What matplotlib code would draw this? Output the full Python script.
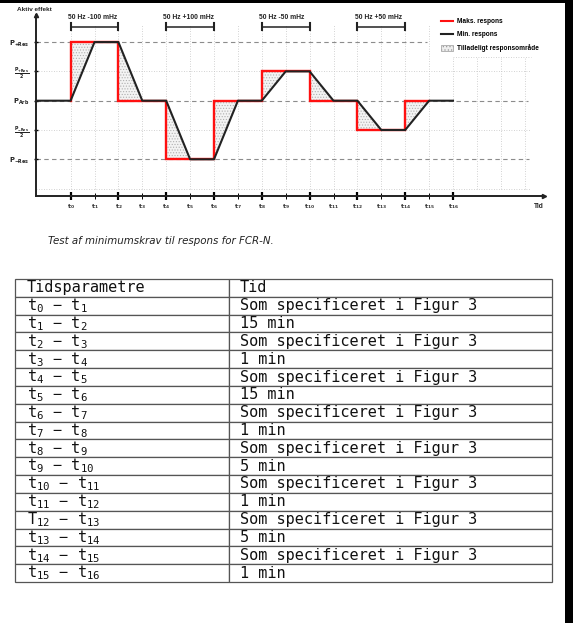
import re
import numpy as np
import matplotlib.pyplot as plt
from matplotlib.lines import Line2D
from matplotlib.patches import Patch, Rectangle

plt.rcParams['font.family'] = ['DejaVu Sans']
plt.rcParams['hatch.linewidth'] = 0.5
plt.rcParams['hatch.color'] = '#b0b0b0'

# --- data ---
t_idx = list(range(17))
t_labels = [r'$\mathbf{t_{%d}}$' % i for i in t_idx]

y_levels = [2, 1, 0, -1, -2]
y_labels = [r'$\mathbf{P_{+Res}}$', r'$\mathbf{\frac{P_{+Res}}{2}}$', r'$\mathbf{P_{Arb}}$',
            r'$\mathbf{\frac{P_{-Res}}{2}}$', r'$\mathbf{P_{-Res}}$']

# min. respons (sort)
min_t = [0, 1, 2, 3, 4, 5, 6, 7, 8, 9, 10, 11, 12, 13, 14, 15, 16]
min_p = [0, 2, 2, 0, 0, -2, -2, 0, 0, 1, 1, 0, 0, -1, -1, 0, 0]
# maks. respons (roed)
max_t = [0, 0, 2, 2, 4, 4, 6, 6, 8, 8, 10, 10, 12, 12, 14, 14, 15]
max_p = [0, 2, 2, 0, 0, -2, -2, 0, 0, 1, 1, 0, 0, -1, -1, 0, 0]

freq_labels = ['50 Hz -100 mHz', '50 Hz +100 mHz', '50 Hz -50 mHz', '50 Hz +50 mHz']
freq_start = [0, 4, 8, 12]
freq_end = [2, 6, 10, 14]

tab_header = ['Tidsparametre', 'Tid']
tab_params = ['t0 − t1', 't1 − t2', 't2 − t3', 't3 − t4', 't4 − t5', 't5 − t6',
              't6 − t7', 't7 − t8', 't8 − t9', 't9 − t10', 't10 − t11', 't11 − t12',
              'T12 − t13', 't13 − t14', 't14 − t15', 't15 − t16']
tab_tid = ['Som specificeret i Figur 3', '15 min', 'Som specificeret i Figur 3', '1 min',
           'Som specificeret i Figur 3', '15 min', 'Som specificeret i Figur 3', '1 min',
           'Som specificeret i Figur 3', '5 min', 'Som specificeret i Figur 3', '1 min',
           'Som specificeret i Figur 3', '5 min', 'Som specificeret i Figur 3', '1 min']

W, H = 573, 623
fig = plt.figure(figsize=(W / 100, H / 100), dpi=100)

# --- chart ---
x0, dx = 70.6, 23.9           # pixel of t0, pixels per step
y0, dy = 100.7, 29.3          # pixel of P_Arb, pixels per level
ax_l, ax_r, ax_t, ax_b = 35.6, 543.6, 15, 196
ax = fig.add_axes([ax_l / W, 1 - ax_b / H, (ax_r - ax_l) / W, (ax_b - ax_t) / H])
xl, xr = (ax_l - x0) / dx, (ax_r - x0) / dx
yb, yt = (y0 - ax_b) / dy, (y0 - ax_t) / dy
ax.set_xlim(xl, xr)
ax.set_ylim(yb, yt)

gcol = '#c4c4c4'
for i in range(20):
    top = 2.58 if i <= 15 else 1.49
    ax.plot([i, i], [-3, top], color=gcol, lw=0.6, ls=(0, (1, 2)), zorder=1)
for lv in [1, -1, -3]:
    ax.plot([xl, 19.27], [lv, lv], color=gcol, lw=0.6, ls=(0, (1, 2)), zorder=1)
ax.plot([16, 19.27], [1.49, 1.49], color=gcol, lw=0.6, ls=(0, (1, 2)), zorder=1)
for lv, end in [(2, 14.9), (0, 19.14), (-2, 19.2)]:
    ax.plot([xl, end], [lv, lv], color='#8c8c8c', lw=0.8, ls=(0, (4, 3)), zorder=1)

# tilladeligt responsomraade
poly_x = np.concatenate([max_t, min_t[:16][::-1]])
poly_y = np.concatenate([max_p, min_p[:16][::-1]])
ax.fill(poly_x, poly_y, facecolor='#f3f3f3', edgecolor='#b0b0b0', hatch='......', lw=0, zorder=2)

ax.plot(max_t, max_p, color='#ff1010', lw=1.7, zorder=3, solid_joinstyle='miter')
ax.plot([xl] + min_t, [0] + min_p, color='#222222', lw=1.5, zorder=4)

for lab, s, e in zip(freq_labels, freq_start, freq_end):
    ax.plot([s, e], [2.53, 2.53], color='#222222', lw=1.1, clip_on=False)
    ax.plot([s, s], [2.42, 2.64], color='#222222', lw=1.5, clip_on=False)
    ax.plot([e, e], [2.42, 2.64], color='#222222', lw=1.5, clip_on=False)
    ax.text(s - 0.12, 2.84, lab, fontsize=4.9, fontweight='bold', family='Liberation Sans',
            va='center', ha='left', color='#222222')

for s in ['top', 'right']:
    ax.spines[s].set_visible(False)
for s in ['left', 'bottom']:
    ax.spines[s].set_linewidth(1.4)
    ax.spines[s].set_color('#222222')
ax.plot(1, 0, '>', color='#222222', ms=3, transform=ax.transAxes, clip_on=False)
ax.plot(0, 1, '^', color='#222222', ms=3, transform=ax.transAxes, clip_on=False)

ax.set_xticks(t_idx)
ax.set_xticklabels(t_labels, fontsize=4.5, color='#333333')
ax.tick_params(axis='x', direction='inout', length=4, width=0.7, pad=2.5)
for i, tk in enumerate(ax.xaxis.get_major_ticks()):
    if i % 2 == 0:
        tk.tick1line.set_markeredgewidth(1.6)
        tk.tick1line.set_markersize(6)
ax.set_yticks(y_levels)
ax.set_yticklabels(y_labels, fontsize=4.9, color='#222222')
ax.tick_params(axis='y', direction='inout', length=3, width=1.0, pad=3)

ax.text(1.0, -0.057, 'Tid', transform=ax.transAxes, fontsize=4.8, fontweight='bold',
        family='Liberation Sans', ha='right', va='center', color='#222222')
ax.text(-0.036, 1.03, 'Aktiv effekt', transform=ax.transAxes, fontsize=4.6, fontweight='bold',
        family='Liberation Sans', ha='left', va='center', color='#222222')

handles = [Line2D([], [], color='#ff1010', lw=1.5),
           Line2D([], [], color='#222222', lw=1.5),
           Patch(facecolor='#eeeeee', edgecolor='#9a9a9a', hatch='.....', lw=0.5)]
fig.legend(handles, ['Maks. respons', 'Min. respons', 'Tilladeligt responsområde'],
           loc='upper left', bbox_to_anchor=(441 / W, 1 - 18 / H), frameon=False,
           prop={'size': 4.7, 'weight': 'bold', 'family': 'Liberation Sans'},
           handlelength=1.8, handleheight=0.9, handletextpad=0.7, labelspacing=0.95,
           borderpad=0, borderaxespad=0)

fig.text(48 / W, 1 - 241 / H, 'Test af minimumskrav til respons for FCR-N.',
         fontsize=7.4, style='italic', va='center', ha='left', color='#222222')

# --- tabel ---
def fmt_param(p):
    return re.sub(r'([tT])(\d+)', r'$\\mathtt{\1_{\2}}$', p)

rows = [tab_header] + [[fmt_param(p), t] for p, t in zip(tab_params, tab_tid)]
tab_l, tab_r, tab_t, tab_b = 15, 552, 279, 582
tax = fig.add_axes([tab_l / W, 1 - tab_b / H, (tab_r - tab_l) / W, (tab_b - tab_t) / H])
tax.axis('off')
c0 = (229 - tab_l) / (tab_r - tab_l)
tbl = tax.table(cellText=rows, colWidths=[c0, 1 - c0], cellLoc='left', bbox=[0, 0, 1, 1])
tbl.auto_set_font_size(False)
tbl.set_fontsize(11)
for (r, c), cell in tbl.get_celld().items():
    cell.set_edgecolor('#555555')
    cell.set_linewidth(0.9)
    cell.PAD = 12 / 214 if c == 0 else 11 / 323
    cell.get_text().set_fontfamily(['DejaVu Sans Mono', 'DejaVu Sans'])
    cell.get_text().set_color('#111111')

# sideramme
fig.add_artist(Rectangle((0, 1 - 3 / H), 1, 3 / H, transform=fig.transFigure,
                         facecolor='black', edgecolor='none'))
fig.add_artist(Rectangle((565 / W, 0), 8 / W, 1, transform=fig.transFigure,
                         facecolor='black', edgecolor='none'))

plt.savefig('out.png', dpi=100)
